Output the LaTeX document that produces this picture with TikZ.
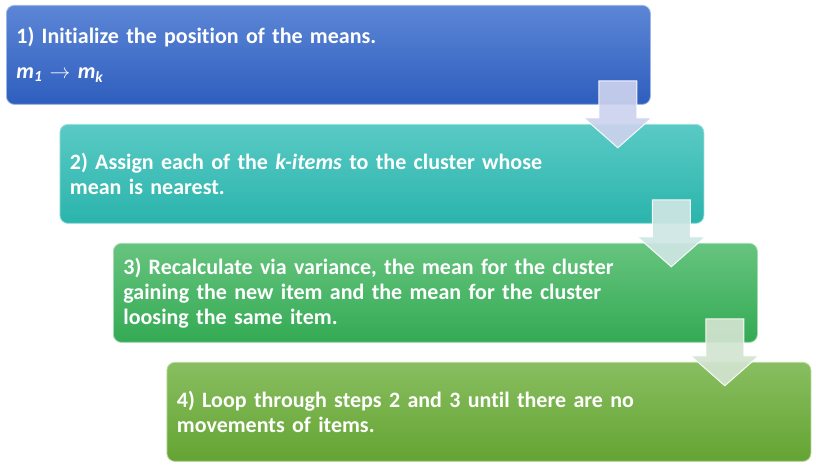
\documentclass[tikz,border=0pt]{standalone}
\usepackage{fontspec}
\setmainfont{Carlito}[Ligatures=NoCommon]
\usetikzlibrary{calc}

% box colours (top / bottom of the gradient)
\definecolor{blueTop}{RGB}{92,134,214}
\definecolor{blueBot}{RGB}{46,94,190}
\definecolor{tealTop}{RGB}{90,202,197}
\definecolor{tealBot}{RGB}{42,180,172}
\definecolor{greenTop}{RGB}{102,196,126}
\definecolor{greenBot}{RGB}{52,170,84}
\definecolor{limeTop}{RGB}{136,190,96}
\definecolor{limeBot}{RGB}{100,164,50}
% arrow tints
\definecolor{blueTint}{RGB}{204,210,238}
\definecolor{tealTint}{RGB}{206,230,228}
\definecolor{greenTint}{RGB}{210,228,208}

\tikzset{
    stepbox/.style={rectangle, rounded corners=8pt, anchor=north west,
        minimum width=644pt, minimum height=99pt, inner xsep=10pt,
        text width=624pt, align=left, text=white, line width=0.8pt,
        font=\bfseries\fontsize{22}{25}\selectfont},
    downarrow/.style={draw=white, line width=1pt, line join=miter,
        fill opacity=0.92, draw opacity=0.9}
}

\begin{document}
\begin{tikzpicture}[x=1pt, y=1pt]
    \useasboundingbox (0,0) rectangle (816,470);

    % 步骤框
    \node[stepbox, top color=blueTop, bottom color=blueBot, draw=blueTop!60!white] (s1) at (6,465)
        {1) Initialize the position of the means.\\[10pt]
         \textit{m\textsubscript{1}} $\rightarrow$ \textit{m\textsubscript{k}}};
    \node[stepbox, top color=tealTop, bottom color=tealBot, draw=tealTop!60!white] (s2) at (59.5,346)
        {2) Assign each of the \textit{k-items} to the cluster whose\\
         mean is nearest.};
    \node[stepbox, top color=greenTop, bottom color=greenBot, draw=greenTop!60!white] (s3) at (113,227)
        {3) Recalculate via variance, the mean for the cluster\\
         gaining the new item and the mean for the cluster\\
         loosing the same item.};
    \node[stepbox, top color=limeTop, bottom color=limeBot, draw=limeTop!60!white] (s4) at (166.5,108)
        {4) Loop through steps 2 and 3 until there are no\\
         movements of items.};

    % 箭头
    \foreach \i/\c in {1/blueTint, 2/tealTint, 3/greenTint} {
        \coordinate (a\i) at ($(s\i.south east)+(-33,24)$);
        \draw[downarrow, fill=\c] ($(a\i)+(-19,0)$) -- ($(a\i)+(19,0)$) -- ($(a\i)+(19,-37)$)
            -- ($(a\i)+(34,-37)$) -- ($(a\i)+(0,-67)$) -- ($(a\i)+(-34,-37)$)
            -- ($(a\i)+(-19,-37)$) -- cycle;
    }
\end{tikzpicture}
\end{document}
